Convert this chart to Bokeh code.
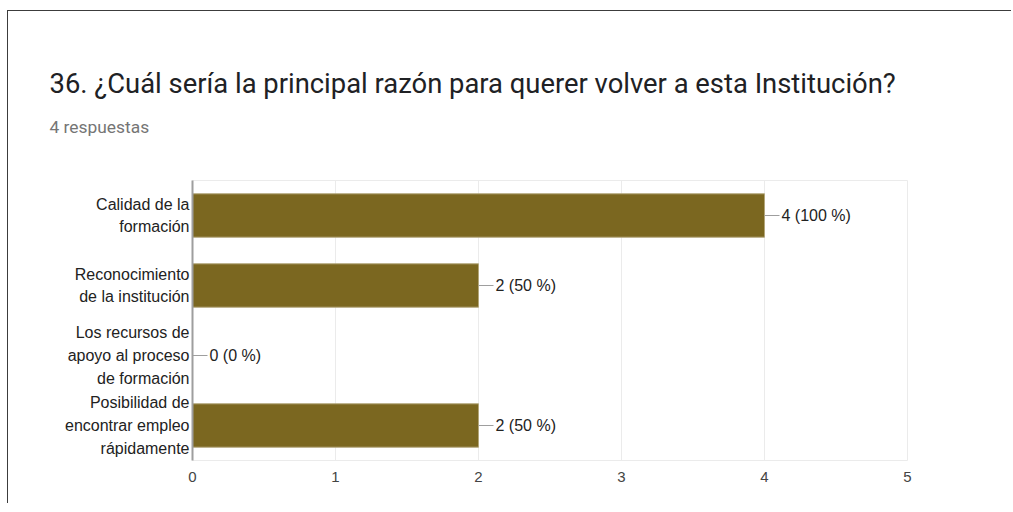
from bokeh.plotting import figure
from bokeh.models import FactorRange, Title, ColumnDataSource, FixedTicker
from bokeh.embed import file_html
from bokeh.resources import INLINE
from bokeh.core.properties import value

title_text = "36. ¿Cuál sería la principal razón para querer volver a esta Institución?"
subtitle_text = "4 respuestas"
categories = [
    "Calidad de la\nformación",
    "Reconocimiento\nde la institución",
    "Los recursos de\napoyo al proceso\nde formación",
    "Posibilidad de\nencontrar empleo\nrápidamente",
]
counts = [4, 2, 0, 2]
percents = [100, 50, 0, 50]
x_ticks = [0, 1, 2, 3, 4, 5]

labels = [f"{c} ({p} %)" for c, p in zip(counts, percents)]
src = ColumnDataSource(dict(cat=categories, val=counts, lab=labels))

W = 1004
p = figure(
    width=W, height=493,
    y_range=FactorRange(*list(reversed(categories)), range_padding=0),
    x_range=(0, 5),
    output_backend="svg", toolbar_location=None,
    min_border_left=184, min_border_right=W - 184 - 715,
    min_border_top=169, min_border_bottom=44,
)
p.styles = {"margin-top": "10px", "margin-left": "7px",
            "border-top": "1px solid #3c3c3c", "border-left": "1px solid #3c3c3c"}
p.background_fill_color = "white"
p.border_fill_color = "white"
p.outline_line_color = "#ebebeb"

p.hbar(y="cat", right="val", left=0, height=0.62, source=src,
       fill_color="#7b6720", line_color="#b3a67a", line_width=1)
p.ray(x="val", y="cat", length=15, length_units="screen", angle=0, source=src,
      line_color="#9e9e9e", line_width=1)
p.text(x="val", y="cat", text="lab", x_offset=17, source=src,
       text_baseline="middle", text_align="left",
       text_font=value("Liberation Sans"), text_font_size="16px", text_color="#222222")

p.xgrid.grid_line_color = "#ebebeb"
p.xgrid.ticker = FixedTicker(ticks=x_ticks)
p.ygrid.grid_line_color = None

p.xaxis.ticker = FixedTicker(ticks=x_ticks)
p.xaxis.axis_line_color = None
p.xaxis.major_tick_line_color = None
p.xaxis.minor_tick_line_color = None
p.xaxis.major_tick_out = 0
p.xaxis.major_tick_in = 0
p.xaxis.major_label_text_font = "Liberation Sans"
p.xaxis.major_label_text_font_size = "15px"
p.xaxis.major_label_text_color = "#444444"
p.xaxis.major_label_standoff = 11

p.yaxis.axis_line_color = "#9e9e9e"
p.yaxis.axis_line_width = 2
p.yaxis.major_tick_line_color = None
p.yaxis.minor_tick_line_color = None
p.yaxis.major_tick_out = 0
p.yaxis.major_tick_in = 0
p.yaxis.major_label_text_font = "Liberation Sans"
p.yaxis.major_label_text_font_size = "16px"
p.yaxis.major_label_text_color = "#222222"
p.yaxis.major_label_text_line_height = 1.35
p.yaxis.major_label_standoff = 3

p.title = None
p.add_layout(Title(text=subtitle_text, align="left", offset=-143, standoff=87,
                   text_font="Roboto", text_font_size="17.4px", text_color="#757575",
                   text_font_style="normal"), "above")
p.add_layout(Title(text=title_text, align="left", offset=-143, standoff=-57,
                   text_font="Roboto", text_font_size="27.4px", text_color="#202124",
                   text_font_style="normal"), "above")

open("out.html", "w").write(file_html(p, INLINE))
